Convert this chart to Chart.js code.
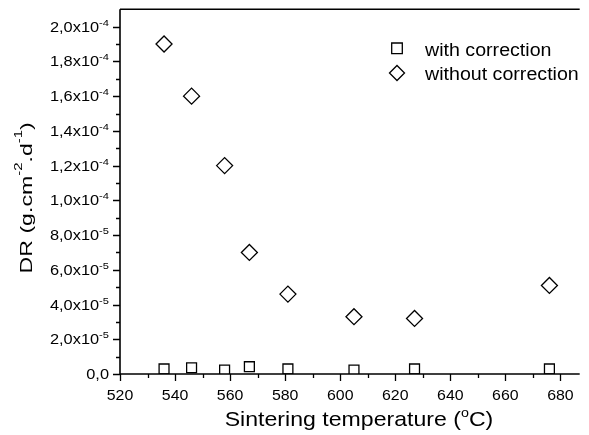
<!DOCTYPE html>
<html lang="en">
<head>
    <meta charset="UTF-8">
    <title>DR vs sintering temperature</title>
    <script src="https://cdn.jsdelivr.net/npm/chart.js"></script>
    <style>
        body {
            margin: 0;
            background: white;
            overflow: hidden;
        }
        #chart-container {
            width: 589px;
            height: 435px;
        }
        canvas {
            display: block;
        }
    </style>
</head>
<body>
    <div id="chart-container">
        <canvas id="drChart" width="589" height="435"></canvas>
    </div>

    <script>
        // values
        const temperatures = [536, 546, 558, 567, 581, 605, 627, 676];
        const withCorrection = [2.9e-6, 3.6e-6, 2.3e-6, 4.2e-6, 2.9e-6, 2.3e-6, 2.9e-6, 2.9e-6];
        const withoutCorrection = [1.9e-4, 1.6e-4, 1.2e-4, 7.0e-5, 4.6e-5, 3.3e-5, 3.2e-5, 5.1e-5];

        const xTicks = [520, 540, 560, 580, 600, 620, 640, 660, 680];
        const xMinorTicks = [530, 550, 570, 590, 610, 630, 650, 670];
        const yTicks = [0, 2e-5, 4e-5, 6e-5, 8e-5, 1e-4, 1.2e-4, 1.4e-4, 1.6e-4, 1.8e-4, 2e-4];
        const yMinorTicks = [1e-5, 3e-5, 5e-5, 7e-5, 9e-5, 1.1e-4, 1.3e-4, 1.5e-4, 1.7e-4, 1.9e-4];
        const yTickMantissa = ['0,0', '2,0x10', '4,0x10', '6,0x10', '8,0x10', '1,0x10', '1,2x10', '1,4x10', '1,6x10', '1,8x10', '2,0x10'];
        const yTickExponent = ['', '-5', '-5', '-5', '-5', '-4', '-4', '-4', '-4', '-4', '-4'];

        const seriesLabels = ['with correction', 'without correction'];
        const xTitle = [{ t: 'Sintering temperature (' }, { t: 'o', sup: true }, { t: 'C)' }];
        const yTitle = [{ t: 'DR (g.cm' }, { t: '-2', sup: true }, { t: '.d' }, { t: '-1', sup: true }, { t: ')' }];

        const FONT = "'Liberation Sans', Arial, sans-serif";
        const INK = '#000';

        // text with superscripts, optionally rotated and stretched along its length
        function drawRich(ctx, parts, x, y, o) {
            ctx.save();
            ctx.translate(x, y);
            if (o.rotate) ctx.rotate(o.rotate);
            ctx.scale(o.stretch || 1, 1);
            ctx.textAlign = 'left';
            ctx.textBaseline = 'alphabetic';
            ctx.fillStyle = INK;
            let w = 0;
            parts.forEach(p => {
                ctx.font = (p.sup ? o.supSize : o.size) + 'px ' + FONT;
                w += ctx.measureText(p.t).width;
            });
            let cx = o.align === 'center' ? -w / 2 : o.align === 'right' ? -w : 0;
            parts.forEach(p => {
                ctx.font = (p.sup ? o.supSize : o.size) + 'px ' + FONT;
                ctx.fillText(p.t, cx, p.sup ? -o.raise : 0);
                cx += ctx.measureText(p.t).width;
            });
            ctx.restore();
        }

        function marker(ctx, style, radius, x, y) {
            ctx.save();
            ctx.strokeStyle = INK;
            ctx.lineWidth = 1.3;
            ctx.fillStyle = 'rgba(0,0,0,0)';
            Chart.helpers.drawPoint(ctx, { pointStyle: style, radius: radius, rotation: 0, borderWidth: 1.3 }, x, y);
            ctx.restore();
        }

        const axesPlugin = {
            id: 'originAxes',
            afterDraw(chart) {
                const ctx = chart.ctx;
                const area = chart.chartArea;
                const xs = chart.scales.x;
                const ys = chart.scales.y;

                ctx.save();
                ctx.strokeStyle = INK;
                ctx.lineCap = 'butt';

                // ticks
                ctx.lineWidth = 1.3;
                ctx.beginPath();
                yTicks.forEach(v => {
                    const py = Math.round(ys.getPixelForValue(v)) + 0.5;
                    ctx.moveTo(area.left - 7, py);
                    ctx.lineTo(area.left, py);
                });
                yMinorTicks.forEach(v => {
                    const py = Math.round(ys.getPixelForValue(v)) + 0.5;
                    ctx.moveTo(area.left - 4, py);
                    ctx.lineTo(area.left, py);
                });
                xTicks.forEach(v => {
                    const px = Math.round(xs.getPixelForValue(v)) + 0.5;
                    ctx.moveTo(px, area.bottom);
                    ctx.lineTo(px, area.bottom + 7);
                });
                xMinorTicks.forEach(v => {
                    const px = Math.round(xs.getPixelForValue(v)) + 0.5;
                    if (px > area.right) return;
                    ctx.moveTo(px, area.bottom);
                    ctx.lineTo(px, area.bottom + 4);
                });
                ctx.stroke();

                // frame: left, bottom and top lines
                ctx.lineWidth = 1.6;
                ctx.beginPath();
                ctx.moveTo(area.left, area.top);
                ctx.lineTo(area.left, area.bottom);
                ctx.lineTo(area.right, area.bottom);
                ctx.moveTo(area.left, area.top);
                ctx.lineTo(area.right, area.top);
                ctx.stroke();
                ctx.restore();

                // tick labels
                yTicks.forEach((v, i) => {
                    const py = ys.getPixelForValue(v);
                    const parts = [{ t: yTickMantissa[i] }];
                    if (yTickExponent[i]) parts.push({ t: yTickExponent[i], sup: true });
                    drawRich(ctx, parts, area.left - 11, py + 5, { size: 14, supSize: 9.5, raise: 6, stretch: 1.17, align: 'right' });
                });
                xTicks.forEach(v => {
                    const px = xs.getPixelForValue(v);
                    drawRich(ctx, [{ t: String(v) }], px, area.bottom + 26, { size: 15, stretch: 1.06, align: 'center' });
                });

                // axis titles
                drawRich(ctx, xTitle, area.left + 239, area.bottom + 52, { size: 21, supSize: 13, raise: 9, stretch: 1.1, align: 'center' });
                drawRich(ctx, yTitle, 32, area.top + 188.5, { size: 17, supSize: 11, raise: 10, stretch: 1.36, align: 'center', rotate: -Math.PI / 2 });

                // legend
                marker(ctx, 'rect', 7.5, area.left + 277, area.top + 39);
                marker(ctx, 'rectRot', 7.5, area.left + 277, area.top + 63.7);
                drawRich(ctx, [{ t: seriesLabels[0] }], area.left + 305, area.top + 47, { size: 18, stretch: 1.09 });
                drawRich(ctx, [{ t: seriesLabels[1] }], area.left + 305, area.top + 70.3, { size: 18, stretch: 1.09 });
            }
        };

        const ctxDR = document.getElementById('drChart').getContext('2d');
        const chartDR = new Chart(ctxDR, {
            type: 'scatter',
            data: {
                datasets: [
                    {
                        label: seriesLabels[0],
                        data: temperatures.map((t, i) => ({ x: t, y: withCorrection[i] })),
                        pointStyle: 'rect',
                        pointRadius: 7,
                        borderColor: INK,
                        borderWidth: 1.3,
                        backgroundColor: 'rgba(0,0,0,0)',
                    },
                    {
                        label: seriesLabels[1],
                        data: temperatures.map((t, i) => ({ x: t, y: withoutCorrection[i] })),
                        pointStyle: 'rectRot',
                        pointRadius: 8,
                        borderColor: INK,
                        borderWidth: 1.3,
                        backgroundColor: 'rgba(0,0,0,0)',
                    },
                ],
            },
            options: {
                responsive: false,
                animation: false,
                layout: {
                    padding: { left: 120, top: 9, right: 0, bottom: 61 },
                },
                plugins: {
                    legend: { display: false },
                    tooltip: { enabled: false },
                },
                scales: {
                    x: {
                        type: 'linear',
                        display: false,
                        min: 520,
                        max: 687,
                    },
                    y: {
                        type: 'linear',
                        display: false,
                        min: 0,
                        max: 2.1e-4,
                    },
                },
            },
            plugins: [axesPlugin],
        });
    </script>
</body>
</html>
